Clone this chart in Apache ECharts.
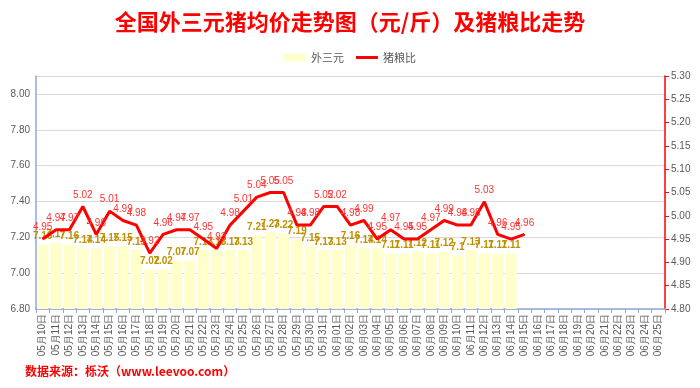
<!DOCTYPE html>
<html>
<head>
<meta charset="utf-8">
<script src="https://cdn.jsdelivr.net/npm/echarts@6/dist/echarts.min.js"></script>
<style>html,body{margin:0;padding:0;background:#fff}#c{width:700px;height:388px}</style>
</head>
<body>
<div id="c"></div>
<script>
const categories = ['05月10日','05月11日','05月12日','05月13日','05月14日','05月15日','05月16日','05月17日','05月18日','05月19日','05月20日','05月21日','05月22日','05月23日','05月24日','05月25日','05月26日','05月27日','05月28日','05月29日','05月30日','05月31日','06月01日','06月02日','06月03日','06月04日','06月05日','06月06日','06月07日','06月08日','06月09日','06月10日','06月11日','06月12日','06月13日','06月14日','06月15日','06月16日','06月17日','06月18日','06月19日','06月20日','06月21日','06月22日','06月23日','06月24日','06月25日'];
const priceValues = [7.16,7.17,7.16,7.14,7.14,7.15,7.15,7.13,7.02,7.02,7.07,7.07,7.13,7.13,7.13,7.13,7.21,7.23,7.22,7.19,7.15,7.13,7.13,7.16,7.14,7.14,7.11,7.11,7.12,7.11,7.12,7.10,7.13,7.11,7.11,7.11];
const ratioValues = [4.95,4.97,4.97,5.02,4.96,5.01,4.99,4.98,4.92,4.96,4.97,4.97,4.95,4.93,4.98,5.01,5.04,5.05,5.05,4.98,4.98,5.02,5.02,4.98,4.99,4.95,4.97,4.95,4.95,4.97,4.99,4.98,4.98,5.03,4.96,4.95,4.96];
const leftTicks = [6.8, 8.1, 0.2];
const rightTicks = [4.8, 5.3, 0.05];

const chart = echarts.init(document.getElementById('c'));
const font = '"Liberation Sans", Arial, sans-serif';
chart.setOption({
  animation: false,
  title: {
    text: '全国外三元猪均价走势图（元/斤）及猪粮比走势',
    left: 'center', top: 6,
    textStyle: {color: '#FF0000', fontSize: 22, fontWeight: 'bold', fontFamily: '"Noto Sans CJK SC", sans-serif'}
  },
  graphic: [{
    type: 'text', left: 25, top: 365,
    style: {text: '数据来源：栎沃（www.leevoo.com）', fill: '#FF0000', font: 'bold 12px "Noto Sans CJK SC", sans-serif'}
  }],
  legend: {
    top: 47, left: 'center', itemGap: 12, itemWidth: 22, itemHeight: 8,
    textStyle: {color: '#595959', fontSize: 11, fontFamily: '"Noto Sans CJK SC", sans-serif'},
    data: [{name: '外三元', icon: 'rect'}, {name: '猪粮比', icon: 'path://M0,0H22V3H0Z'}]
  },
  grid: {left: 36, right: 35, top: 76, bottom: 79},
  xAxis: {
    type: 'category', data: categories,
    axisLine: {lineStyle: {color: '#8EA9DB', width: 1.5}},
    axisTick: {show: true, lineStyle: {color: '#8EA9DB'}, length: 4},
    axisLabel: {rotate: 90, interval: 0, color: '#595959', fontSize: 10, fontFamily: font, margin: 5}
  },
  yAxis: [{
    type: 'value', min: leftTicks[0], max: leftTicks[1], interval: leftTicks[2],
    axisLine: {show: true, lineStyle: {color: '#8EA9DB', width: 1.5}},
    axisTick: {show: false},
    axisLabel: {color: '#595959', fontSize: 10, fontFamily: font, showMaxLabel: false, margin: 6,
      formatter: v => v.toFixed(2)},
    splitLine: {lineStyle: {color: '#D9D9D9'}}
  }, {
    type: 'value', min: rightTicks[0], max: rightTicks[1], interval: rightTicks[2],
    position: 'right',
    axisLine: {show: true, lineStyle: {color: '#FF0000', width: 1.5}},
    axisTick: {show: true, lineStyle: {color: '#FF0000'}, length: 4},
    axisLabel: {color: '#595959', fontSize: 10, fontFamily: font, margin: 6,
      formatter: v => v.toFixed(2)},
    splitLine: {show: false}
  }],
  series: [{
    name: '外三元', type: 'bar', data: priceValues, yAxisIndex: 0,
    barCategoryGap: '16%',
    itemStyle: {color: '#FFFFCC'},
    label: {show: true, position: 'top', distance: 3, color: '#BF9000', fontSize: 10, fontWeight: 'bold', fontFamily: font,
      formatter: p => String(p.value)}
  }, {
    name: '猪粮比', type: 'line', data: ratioValues, yAxisIndex: 1,
    symbol: 'circle', symbolSize: 1, showSymbol: true,
    lineStyle: {color: '#FF0000', width: 3},
    itemStyle: {color: '#FF0000'},
    label: {show: true, position: 'top', distance: 6, color: '#FF3333', fontSize: 10, fontFamily: font,
      formatter: p => String(p.value)}
  }]
});
</script>
</body>
</html>
